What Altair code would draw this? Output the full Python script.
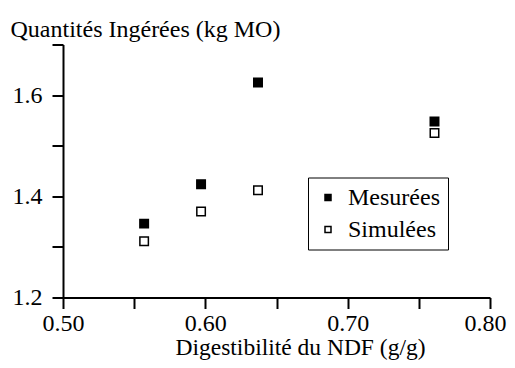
import altair as alt
import pandas as pd

# Data
digestibilite = [0.557, 0.597, 0.637, 0.761]
mesurees = [1.346, 1.424, 1.625, 1.548]
simulees = [1.311, 1.370, 1.412, 1.525]
series = ["Mesurées", "Simulées"]
x_ticks = [0.50, 0.55, 0.60, 0.65, 0.70, 0.75, 0.80]
y_ticks = [1.2, 1.3, 1.4, 1.5, 1.6, 1.7]

rows = []
for xv, m, s in zip(digestibilite, mesurees, simulees):
    rows.append({"x": xv, "y": m, "serie": series[0]})
    rows.append({"x": xv, "y": s, "serie": series[1]})
df = pd.DataFrame(rows)

FONT = "Liberation Serif"
FS = 24

chart = (
    alt.Chart(df)
    .mark_point(shape="square", filled=True, stroke="black", strokeWidth=1.5, size=72, opacity=1)
    .encode(
        x=alt.X(
            "x:Q",
            scale=alt.Scale(domain=[0.5, 0.8], nice=False, zero=False),
            axis=alt.Axis(
                values=x_ticks,
                labelExpr="abs(datum.value*10 - round(datum.value*10)) < 0.001 ? format(datum.value, '.2f') : ''",
                title="Digestibilité du NDF (g/g)",
                titleX=237,
                titleY=57,
                titleFontSize=23.5,
                titleAlign="center",
                titleBaseline="alphabetic",
                labelFlush=False,
                labelPadding=3,
                labelOffset=alt.ConditionalAxisNumber(
                    condition={"test": "datum.value > 0.79", "value": -5}, value=0
                ),
            ),
        ),
        y=alt.Y(
            "y:Q",
            scale=alt.Scale(domain=[1.2, 1.7], nice=False, zero=False),
            axis=alt.Axis(
                values=y_ticks,
                labelExpr="(abs(datum.value*5 - round(datum.value*5)) < 0.001 && datum.value < 1.65) ? format(datum.value, '.1f') : ''",
                title="Quantités Ingérées (kg MO)",
                titleAngle=0,
                titleX=-53,
                titleY=-8,
                titleAlign="left",
                titleBaseline="alphabetic",
                labelPadding=10,
            ),
        ),
        fill=alt.Fill(
            "serie:N",
            scale=alt.Scale(domain=series, range=["black", "white"]),
            sort=series,
            legend=alt.Legend(
                title=None,
                orient="none",
                legendX=245,
                legendY=133,
                strokeColor="black",
                fillColor="white",
                padding=8,
                rowPadding=8,
                symbolType="square",
                symbolSize=36,
                symbolStrokeColor="black",
                symbolStrokeWidth=1.5,
                labelFont=FONT,
                labelFontSize=FS,
                labelColor="black",
                labelOffset=8,
            ),
        ),
    )
    .properties(
        width=427,
        height=253,
        autosize=alt.AutoSizeParams(type="none"),
        padding={"left": 55, "top": 36.5, "right": 17, "bottom": 62.5},
        background="white",
    )
    .configure_view(stroke=None)
    .configure_axis(
        labelFont=FONT,
        labelFontSize=FS,
        labelColor="black",
        titleFont=FONT,
        titleFontSize=FS,
        titleFontWeight="normal",
        titleColor="black",
        domainColor="black",
        domainWidth=2,
        tickColor="black",
        tickWidth=2,
        tickSize=11,
        grid=False,
        labelOverlap=False,
    )
)

chart.save("out.html", embed_options={"renderer": "svg", "actions": False})
